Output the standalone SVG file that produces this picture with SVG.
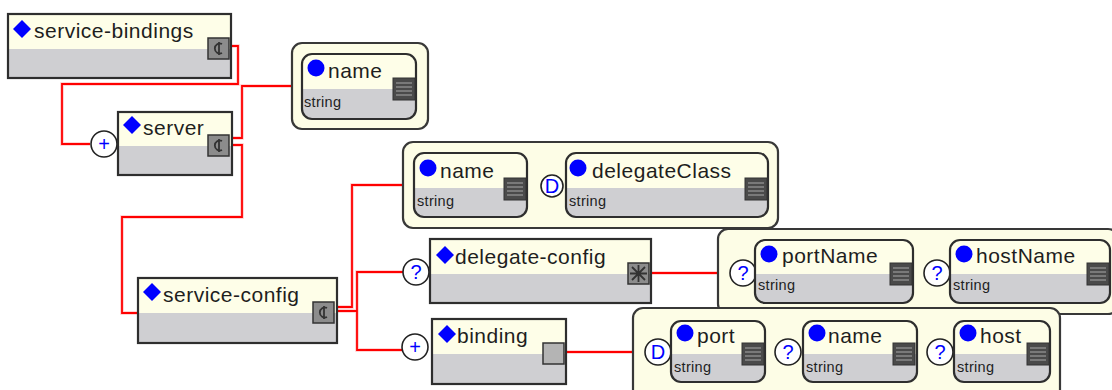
<svg xmlns="http://www.w3.org/2000/svg" width="1112" height="390" viewBox="0 0 1112 390">
<style>
.bg{fill:#ffffff}
.box{fill:url(#two);stroke:#2e2e2e;stroke-width:2.2}
.grp{fill:#fdfde6;stroke:#383838;stroke-width:2.2}
.lbl{font-family:"Liberation Sans",Arial,sans-serif;font-size:21px;letter-spacing:0.5px;fill:#1e1e1e}
.typ{font-family:"Liberation Sans",Arial,sans-serif;font-size:14.5px;letter-spacing:0.3px;fill:#1e1e1e}
.dia{fill:#0000ff}
.dot{fill:#0000ff}
.card{fill:#ffffff;stroke:#222;stroke-width:1.6}
.ct{font-family:"Liberation Sans",Arial,sans-serif;font-size:20px;fill:#0000ff;text-anchor:middle}
.eic{fill:#8c8c8c;stroke:#333;stroke-width:1.5}
.eg{fill:none;stroke:#333;stroke-width:1.8}
.aic{fill:#4a4a4a;stroke:#333;stroke-width:1}
.st{stroke:#a8a8a8;stroke-width:1.2}
.wire{fill:none;stroke:#ff0000;stroke-width:1.8}
.halo{fill:none;stroke:#ffc8c8;stroke-width:3.5}
</style>
<defs>
<linearGradient id="two" x1="0" y1="0" x2="0" y2="1">
<stop offset="0" stop-color="#fefee8"/>
<stop offset="0.54" stop-color="#fefee8"/>
<stop offset="0.54" stop-color="#cfcfd2"/>
<stop offset="1" stop-color="#cfcfd2"/>
</linearGradient>
<g id="seq"><rect class="eic" x="0" y="0" width="21" height="21"/><path class="eg" d="M14 6 A5 5 0 1 0 14 15 M11 4 V17"/></g>
<g id="attr"><rect class="aic" x="0" y="0" width="22" height="22"/><path class="st" d="M3 5 H19 M3 9 H19 M3 13 H19 M3 17 H19"/></g>
</defs>
<rect class="bg" x="0" y="0" width="1112" height="390"/>

<g id="connectors">
<path class="halo" d="M230 46 H238 V84 H62 V144 H90"/>
<path class="wire" d="M230 46 H238 V84 H62 V144 H90"/>
<path class="halo" d="M232 138 H242 V86 H292"/>
<path class="wire" d="M232 138 H242 V86 H292"/>
<path class="halo" d="M232 145 H242 V217 H122 V313 H138"/>
<path class="wire" d="M232 145 H242 V217 H122 V313 H138"/>
<path class="halo" d="M335 307 H352 V185 H403"/>
<path class="wire" d="M335 307 H352 V185 H403"/>
<path class="halo" d="M335 311 H357 V272 H403 M357 311 V350 H402"/>
<path class="wire" d="M335 311 H357 V272 H403 M357 311 V350 H402"/>
<path class="halo" d="M649 273 H718"/>
<path class="wire" d="M649 273 H718"/>
<path class="halo" d="M564 352 H633"/>
<path class="wire" d="M564 352 H633"/>
</g>

<g id="service-bindings">
<rect class="box" x="8" y="14" width="223" height="64"/>
<polygon class="dia" points="22,20 31,29 22,38 13,29"/>
<text class="lbl" x="34" y="38">service-bindings</text>
<use href="#seq" x="208" y="38"/>
</g>

<g id="server">
<circle class="card" cx="104" cy="144" r="13"/>
<text class="ct" x="104" y="151">+</text>
<rect class="box" x="118" y="112" width="114" height="63"/>
<polygon class="dia" points="132,116 141,125 132,134 123,125"/>
<text class="lbl" x="143" y="135">server</text>
<use href="#seq" x="208" y="135"/>
</g>

<g id="server-attrs">
<rect class="grp" x="292" y="43" width="136" height="86" rx="10"/>
<g id="server-name">
<rect class="box" x="302" y="54" width="114" height="65" rx="10"/>
<circle class="dot" cx="316" cy="68" r="8.5"/>
<text class="lbl" x="328" y="78">name</text>
<text class="typ" x="304" y="107">string</text>
<use href="#attr" x="393" y="78"/>
</g>
</g>

<g id="service-config">
<rect class="box" x="138" y="278" width="199" height="65"/>
<polygon class="dia" points="152,283 161,292 152,301 143,292"/>
<text class="lbl" x="163" y="302">service-config</text>
<use href="#seq" x="313" y="302"/>
</g>

<g id="service-config-attrs">
<rect class="grp" x="403" y="142" width="375" height="86" rx="10"/>
<g id="sc-name">
<rect class="box" x="414" y="153" width="113" height="64" rx="10"/>
<circle class="dot" cx="428" cy="168" r="8.5"/>
<text class="lbl" x="440" y="178">name</text>
<text class="typ" x="417" y="206">string</text>
<use href="#attr" x="504" y="178"/>
</g>
<g id="sc-delegateClass">
<circle class="card" cx="552" cy="186" r="11"/>
<text class="ct" x="552" y="193">D</text>
<rect class="box" x="566" y="153" width="202" height="64" rx="10"/>
<circle class="dot" cx="578" cy="168" r="8.5"/>
<text class="lbl" x="592" y="178">delegateClass</text>
<text class="typ" x="569" y="206">string</text>
<use href="#attr" x="745" y="178"/>
</g>
</g>

<g id="delegate-config">
<circle class="card" cx="416" cy="272" r="13"/>
<text class="ct" x="416" y="279">?</text>
<rect class="box" x="430" y="239" width="221" height="64"/>
<polygon class="dia" points="445,246 454,255 445,264 436,255"/>
<text class="lbl" x="455" y="264">delegate-config</text>
<rect class="eic" x="628" y="263" width="21" height="21"/>
<path class="eg" d="M632 267 L645 280 M645 267 L632 280 M638.5 265 V282 M630 273.5 H647"/>
</g>

<g id="delegate-config-attrs">
<rect class="grp" x="718" y="229" width="400" height="85" rx="10"/>
<g id="portName">
<circle class="card" cx="743" cy="273" r="13"/>
<text class="ct" x="743" y="280">?</text>
<rect class="box" x="755" y="240" width="158" height="63" rx="10"/>
<circle class="dot" cx="769" cy="254" r="8.5"/>
<text class="lbl" x="782" y="263">portName</text>
<text class="typ" x="758" y="290">string</text>
<use href="#attr" x="890" y="263"/>
</g>
<g id="hostName">
<circle class="card" cx="937" cy="273" r="13"/>
<text class="ct" x="937" y="280">?</text>
<rect class="box" x="950" y="240" width="160" height="63" rx="10"/>
<circle class="dot" cx="964" cy="254" r="8.5"/>
<text class="lbl" x="976" y="263">hostName</text>
<text class="typ" x="953" y="290">string</text>
<use href="#attr" x="1087" y="263"/>
</g>
</g>

<g id="binding">
<circle class="card" cx="415" cy="347" r="13"/>
<text class="ct" x="415" y="354">+</text>
<rect class="box" x="432" y="319" width="134" height="65"/>
<polygon class="dia" points="447,325 456,334 447,343 438,334"/>
<text class="lbl" x="457" y="343">binding</text>
<rect class="eic" x="543" y="343" width="21" height="21" style="fill:#b4b4b4"/>
</g>

<g id="binding-attrs">
<rect class="grp" x="633" y="308" width="427" height="92" rx="10"/>
<g id="port">
<circle class="card" cx="658" cy="352" r="13"/>
<text class="ct" x="658" y="359">D</text>
<rect class="box" x="671" y="321" width="94" height="61" rx="10"/>
<circle class="dot" cx="685" cy="333" r="8.5"/>
<text class="lbl" x="697" y="343">port</text>
<text class="typ" x="674" y="372">string</text>
<use href="#attr" x="742" y="343"/>
</g>
<g id="binding-name">
<circle class="card" cx="788" cy="352" r="13"/>
<text class="ct" x="788" y="359">?</text>
<rect class="box" x="803" y="321" width="114" height="61" rx="10"/>
<circle class="dot" cx="817" cy="333" r="8.5"/>
<text class="lbl" x="828" y="343">name</text>
<text class="typ" x="806" y="372">string</text>
<use href="#attr" x="893" y="343"/>
</g>
<g id="host">
<circle class="card" cx="940" cy="352" r="13"/>
<text class="ct" x="940" y="359">?</text>
<rect class="box" x="954" y="321" width="96" height="61" rx="10"/>
<circle class="dot" cx="968" cy="333" r="8.5"/>
<text class="lbl" x="980" y="343">host</text>
<text class="typ" x="957" y="372">string</text>
<use href="#attr" x="1027" y="343"/>
</g>
</g>
</svg>
